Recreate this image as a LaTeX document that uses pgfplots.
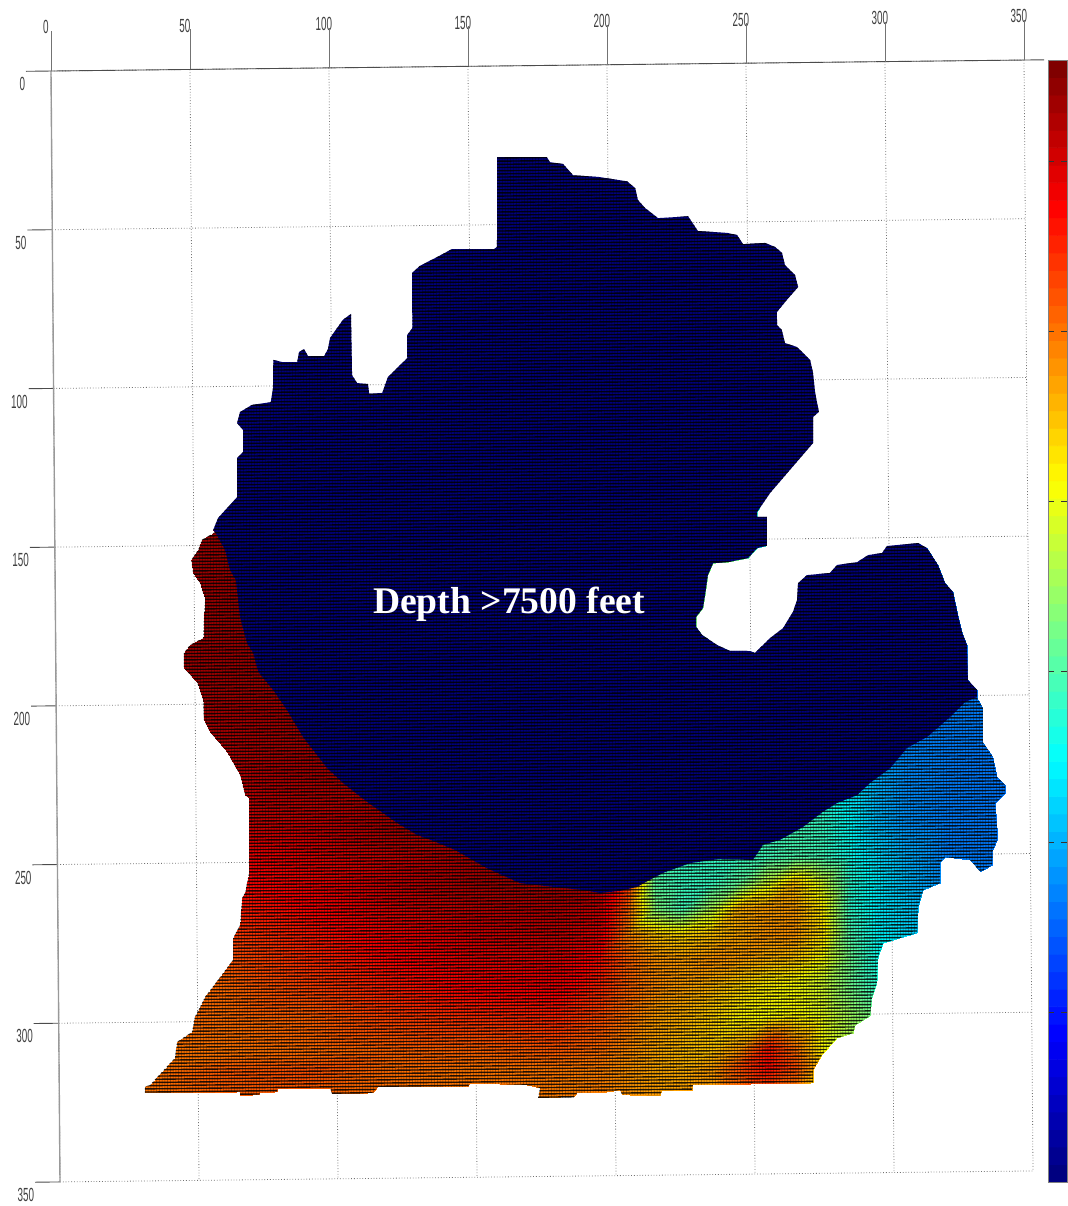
\documentclass[border=0pt]{standalone}
\usepackage{graphicx}
\usepackage{fontspec}
\setmainfont{Liberation Sans}
\newfontfamily\serifb{Liberation Serif}
\usepackage{pgfplots}
\pgfplotsset{compat=1.18}
\newcommand{\tl}[1]{\scalebox{.52}[1]{\fontsize{9.5}{10}\selectfont\pgfmathprintnumber[assume math mode=true]{#1}}}
\begin{document}
\begin{tikzpicture}
\path[use as bounding box] (0pt,0pt) rectangle (534pt,-603pt);
\begin{axis}[
  at={(25.5pt,-35.5pt)}, anchor=origin,
  x={(1.39pt,0.0157pt)}, y={(0.01286pt,-1.587pt)},
  xmin=0,xmax=350,ymin=0,ymax=350,
  xtick={0,50,...,350}, ytick={0,50,...,350},
  axis x line*=top, axis y line*=left,
  tick align=outside,
  x axis line style={draw=black!70,line width=.45pt},
  y axis line style={draw=black!40,line width=.7pt},
  x tick style={draw=none},
  y tick style={draw=black!70,line width=.45pt,/pgfplots/major tick length=12.5pt},
  grid=major,
  grid style={densely dotted,draw=black!55,line width=.4pt},
  xticklabel={\tl{\tick}}, yticklabel={\tl{\tick}},
  xticklabel style={inner sep=0pt,text=black!75,xshift=-2.5pt,yshift=14pt},
  yticklabel style={inner sep=0pt,text=black!75,xshift=-8.5pt,yshift=-6.5pt},
  colormap/jet, point meta min=0, point meta max=1,
]
\coordinate (topright) at (axis cs:350,0);
\coordinate (xt0) at (axis cs:0,0);
\coordinate (xt1) at (axis cs:50,0);
\coordinate (xt2) at (axis cs:100,0);
\coordinate (xt3) at (axis cs:150,0);
\coordinate (xt4) at (axis cs:200,0);
\coordinate (xt5) at (axis cs:250,0);
\coordinate (xt6) at (axis cs:300,0);
\coordinate (xt7) at (axis cs:350,0);
\clip plot coordinates {
(160.2,28.7)(159.9,57)(158.8,57.7)(143.7,57.5)(138.3,60)(132.1,62.7)(129.3,64.9)(129.2,82.3)(127.3,84.5)(127.3,91.7)(120.3,97.6)(118.2,102.6)(113.5,102.8)(113.1,99.7)(109.2,99.4)(107.4,96.9)(107.2,77.6)(104.3,79.4)(99.6,85.1)(98.8,88.6)(97.4,90.8)(91.6,90.7)(90.2,88.5)(88.4,89.4)(87.7,92.6)(82.3,92.5)(79.1,91.8)(79,100.3)(78.1,105.1)(71.3,105.9)(67,108.1)(65.9,111.6)(68.1,113.8)(68,120.7)(65.8,122.6)(65.7,134.9)(58.8,141.4)(57,145.2)
(57.7,145.8)(52.9,148.2)(51.5,151.4)(49,154.5)(49.6,158.6)(52.1,161.8)(53.9,167.1)(53.4,172.5)(53.1,179.1)(48.3,181.3)(46.1,183.8)(46.1,188.6)(50.7,193)(52.9,198.6)(53.1,204.9)(55.3,208.8)(61.3,215.1)(66,222.5)(67.7,228.8)(69.1,229.7)(68.9,253.3)(67.4,259.6)(66.3,261.2)(65.5,269.7)(63,273.7)(62.9,280.6)(58.2,286)(52.7,292.2)(49,298.5)(47.9,303.2)(42.5,306.3)(41.7,311.3)(37,315.7)(32.6,319.8)(30.8,320.3)(30.8,322.2)
(65,322.3)(65,323.3)(71.8,323.3)(72.2,322.6)(78.3,322.4)(78.7,321.2)(97.4,321.4)(98.1,323.2)(106,323.3)(112.8,323)(114.6,321.2)(147,321.5)(147.8,320.3)(168.2,321.1)(172.9,322.1)(172.2,325.2)(184.8,325.4)(186.2,323.8)(197.4,323.6)(201.7,323)(202.4,324.6)(216.1,324.8)(216.8,323.2)(227.6,323.3)(227.9,321.7)
(271.2,321.5)(271.2,317.4)(274.4,312.7)(279.9,307.4)(285.7,305.9)(286.4,303.4)(291.8,300.6)(292.6,294.6)(294.4,290.2)(294.9,282)(296.8,277.7)(301.8,276.4)(309,274.6)(309.5,266.4)(311.3,261.1)(317.4,259)(317.5,252.4)(319.3,250.8)(328.3,251.8)(331.9,255.6)(336.2,253.5)(336.5,248.8)(338.1,245.6)(338.1,242.5)(337.5,234)(341.1,230.8)(341.1,228.3)(338.2,225.8)(336.8,219.5)(333.2,214.7)(333.3,204)(331.3,200.8)
(331.3,198.3)(328,195.1)(327.8,184.1)(326.1,180.2)(324.6,174.6)(322.9,167.3)(320.1,164.5)(317.6,158.8)(313.7,153.4)(310.5,151.8)(299.3,152.6)(297.5,154.8)(292.5,155.4)(288.5,157.6)(281.3,158.4)(278.7,160.9)(270.4,161.5)(267.2,164)(266.8,169.3)(265.3,173)(261.7,178.1)(257,181.2)(251.5,185.8)(249.7,185.2)(242.5,185.1)(237.9,183.2)(232.6,180)(230.4,177.4)(230.4,174.3)(232.9,171.5)(233.7,167.4)(234.8,161.1)(236.7,157.4)(242.1,157.1)(249.3,155.9)(252.6,152.8)(256.1,152.1)(256.2,143)(252.7,143)(252.7,141.4)(257.4,135.5)(273,119.9)(273.1,111.7)(275.2,110.1)(273.9,104.1)(273.2,97.8)(272.2,93.7)(267.5,89.6)(263.2,88.3)(262.1,84.2)(260.4,82.6)(260.4,78.5)(264,74.7)(268.1,70.7)(267,66.9)(263.4,63.7)(262.4,59.9)(259.9,58)(256.3,56.7)(248.4,57)(246.3,54.1)(242.7,53.4)(232.2,52.7)(228.7,48)(225.1,48.2)(217.9,48.5)(213.3,45.3)(210.7,42.7)(209.8,39)(206.9,36.8)(196.5,35.3)(187.5,34.7)(183.9,31.1)(179.2,30.5)(178.1,28.9)
} -- cycle;
\addplot[surf, shader=interp, mesh/cols=20, point meta=\thisrow{c}] table[x=x,y=y,row sep=\\] {
x y c\\
30 140 .97\\60 140 .97\\90 140 .97\\120 140 .97\\150 140 .97\\180 140 .97\\195 140 .97\\205 140 .97\\215 140 .5\\225 140 .5\\235 140 .5\\245 140 .5\\255 140 .4\\265 140 .4\\275 140 .4\\285 140 .3\\295 140 .3\\305 140 .3\\320 140 .3\\345 140 .3\\
30 190 .97\\60 190 .97\\90 190 .97\\120 190 .97\\150 190 .97\\180 190 .97\\195 190 .97\\205 190 .97\\215 190 .5\\225 190 .5\\235 190 .5\\245 190 .5\\255 190 .4\\265 190 .4\\275 190 .4\\285 190 .3\\295 190 .26\\305 190 .25\\320 190 .25\\345 190 .25\\
30 220 .95\\60 220 .95\\90 220 .96\\120 220 .97\\150 220 .97\\180 220 .97\\195 220 .97\\205 220 .97\\215 220 .5\\225 220 .5\\235 220 .5\\245 220 .5\\255 220 .43\\265 220 .4\\275 220 .38\\285 220 .33\\295 220 .29\\305 220 .26\\320 220 .25\\345 220 .24\\
30 240 .92\\60 240 .92\\90 240 .93\\120 240 .96\\150 240 .98\\180 240 .98\\195 240 .98\\205 240 .97\\215 240 .46\\225 240 .44\\235 240 .44\\245 240 .44\\255 240 .44\\265 240 .44\\275 240 .43\\285 240 .38\\295 240 .31\\305 240 .27\\320 240 .25\\345 240 .24\\
30 250 .88\\60 250 .88\\90 250 .9\\120 250 .93\\150 250 .96\\180 250 .98\\195 250 .98\\205 250 .95\\215 250 .45\\225 250 .43\\235 250 .43\\245 250 .43\\255 250 .44\\265 250 .45\\275 250 .44\\285 250 .39\\295 250 .34\\305 250 .3\\320 250 .25\\345 250 .24\\
30 258 .85\\60 258 .86\\90 258 .89\\120 258 .93\\150 258 .96\\180 258 .97\\195 258 .96\\205 258 .82\\215 258 .46\\225 258 .43\\235 258 .43\\245 258 .47\\255 258 .58\\265 258 .68\\275 258 .58\\285 258 .42\\295 258 .36\\305 258 .31\\320 258 .26\\345 258 .24\\
30 266 .83\\60 266 .84\\90 266 .87\\120 266 .91\\150 266 .94\\180 266 .95\\195 266 .92\\205 266 .78\\215 266 .5\\225 266 .44\\235 266 .55\\245 266 .7\\255 266 .72\\265 266 .72\\275 266 .64\\285 266 .42\\295 266 .36\\305 266 .33\\320 266 .28\\345 266 .24\\
30 274 .8\\60 274 .81\\90 274 .85\\120 274 .89\\150 274 .92\\180 274 .93\\195 274 .9\\205 274 .75\\215 274 .68\\225 274 .66\\235 274 .68\\245 274 .71\\255 274 .73\\265 274 .73\\275 274 .65\\285 274 .45\\295 274 .37\\305 274 .34\\320 274 .28\\345 274 .24\\
30 282 .79\\60 282 .79\\90 282 .83\\120 282 .87\\150 282 .9\\180 282 .91\\195 282 .86\\205 282 .78\\215 282 .73\\225 282 .72\\235 282 .73\\245 282 .72\\255 282 .7\\265 282 .68\\275 282 .62\\285 282 .48\\295 282 .39\\305 282 .36\\320 282 .31\\345 282 .28\\
30 290 .77\\60 290 .77\\90 290 .81\\120 290 .85\\150 290 .88\\180 290 .89\\195 290 .84\\205 290 .78\\215 290 .74\\225 290 .72\\235 290 .7\\245 290 .67\\255 290 .64\\265 290 .62\\275 290 .58\\285 290 .48\\295 290 .41\\305 290 .38\\320 290 .33\\345 290 .28\\
30 300 .77\\60 300 .77\\90 300 .78\\120 300 .81\\150 300 .83\\180 300 .84\\195 300 .8\\205 300 .76\\215 300 .72\\225 300 .7\\235 300 .67\\245 300 .63\\255 300 .62\\265 300 .63\\275 300 .6\\285 300 .53\\295 300 .48\\305 300 .43\\320 300 .38\\345 300 .33\\
30 310 .76\\60 310 .76\\90 310 .77\\120 310 .78\\150 310 .78\\180 310 .79\\195 310 .77\\205 310 .74\\215 310 .71\\225 310 .69\\235 310 .68\\245 310 .72\\255 310 .85\\265 310 .76\\275 310 .62\\285 310 .55\\295 310 .5\\305 310 .45\\320 310 .4\\345 310 .35\\
30 316 .76\\60 316 .79\\90 316 .8\\120 316 .77\\150 316 .76\\180 316 .76\\195 316 .75\\205 316 .73\\215 316 .71\\225 316 .7\\235 316 .72\\245 316 .8\\255 316 .87\\265 316 .8\\275 316 .66\\285 316 .58\\295 316 .5\\305 316 .45\\320 316 .4\\345 316 .35\\
30 325 .76\\60 325 .78\\90 325 .78\\120 325 .76\\150 325 .76\\180 325 .75\\195 325 .75\\205 325 .73\\215 325 .72\\225 325 .72\\235 325 .72\\245 325 .76\\255 325 .78\\265 325 .74\\275 325 .62\\285 325 .58\\295 325 .5\\305 325 .45\\320 325 .4\\345 325 .35\\
};
\addplot[draw=none, fill={rgb,255:red,0;green,0;blue,125}] coordinates {
(57.7,145.8)(61.2,151.5)(62.9,157.8)(65,161)(66.4,172.7)(68.8,180.9)(71,184)(72.8,190)(78.1,195.8)(83,202.1)(88.7,210.7)(97.3,220.6)(102.9,225.3)(111.6,231.4)(122.3,238.1)(129.5,242)(134.1,243.5)(143,246.8)(154.5,252.7)(166.3,257.5)(178.2,258.8)(189,259.9)(195.1,260.9)(202.3,260.3)(208.4,259.1)(213.1,256.9)(217.8,254.8)(227.6,251.8)(238.3,250.6)(250.2,251)(253.8,246.3)(260,244.8)(268.3,240.8)(275.5,236.1)(280.6,233.4)(287.8,231)(292.5,227.2)(299.8,222.6)(305.9,216.3)(313.2,212.9)(321.5,206.7)(327,202)(331.3,200.5)(345,200)(345,20)(40,20)(40,145.8)
} -- cycle;
\draw[black,opacity=.85,line width=.7pt] \foreach \i in {27,...,326}{(axis cs:25,\i)--(axis cs:345,\i)};
\draw[black,opacity=.45,line width=.25pt] \foreach \i in {30,...,345}{(axis cs:\i,25)--(axis cs:\i,327)};
\node[text=white,font=\serifb\bfseries\fontsize{18.8}{20}\selectfont] at (axis cs:163.2,169.6) {Depth >7500 feet};
\end{axis}
\draw[black!70,line width=.45pt] (topright) -- ++(10pt,0.1pt);
\foreach \n in {0,...,7} \draw[black!55,line width=.4pt] (xt\n) -- ++(0pt,20pt);
\begin{axis}[
  at={(524pt,-591pt)}, anchor=south west, scale only axis,
  width=9.5pt, height=561pt,
  xmin=0,xmax=1,ymin=0,ymax=64,
  xtick=\empty, ytick={9.7,19.4,29.1,38.8,48.5,58.2}, yticklabels={},
  tick align=inside, ytick pos=both,
  major tick length=3pt,
  tick style={draw=black!80,line width=.4pt},
  axis line style={draw=black!50,line width=.3pt},
  colormap/jet,
  axis on top,
]
\addplot[matrix plot*, mesh/cols=2, point meta=y] coordinates {
(0,.5)(1,.5)(0,1.5)(1,1.5)(0,2.5)(1,2.5)(0,3.5)(1,3.5)(0,4.5)(1,4.5)(0,5.5)(1,5.5)(0,6.5)(1,6.5)(0,7.5)(1,7.5)
(0,8.5)(1,8.5)(0,9.5)(1,9.5)(0,10.5)(1,10.5)(0,11.5)(1,11.5)(0,12.5)(1,12.5)(0,13.5)(1,13.5)(0,14.5)(1,14.5)(0,15.5)(1,15.5)
(0,16.5)(1,16.5)(0,17.5)(1,17.5)(0,18.5)(1,18.5)(0,19.5)(1,19.5)(0,20.5)(1,20.5)(0,21.5)(1,21.5)(0,22.5)(1,22.5)(0,23.5)(1,23.5)
(0,24.5)(1,24.5)(0,25.5)(1,25.5)(0,26.5)(1,26.5)(0,27.5)(1,27.5)(0,28.5)(1,28.5)(0,29.5)(1,29.5)(0,30.5)(1,30.5)(0,31.5)(1,31.5)
(0,32.5)(1,32.5)(0,33.5)(1,33.5)(0,34.5)(1,34.5)(0,35.5)(1,35.5)(0,36.5)(1,36.5)(0,37.5)(1,37.5)(0,38.5)(1,38.5)(0,39.5)(1,39.5)
(0,40.5)(1,40.5)(0,41.5)(1,41.5)(0,42.5)(1,42.5)(0,43.5)(1,43.5)(0,44.5)(1,44.5)(0,45.5)(1,45.5)(0,46.5)(1,46.5)(0,47.5)(1,47.5)
(0,48.5)(1,48.5)(0,49.5)(1,49.5)(0,50.5)(1,50.5)(0,51.5)(1,51.5)(0,52.5)(1,52.5)(0,53.5)(1,53.5)(0,54.5)(1,54.5)(0,55.5)(1,55.5)
(0,56.5)(1,56.5)(0,57.5)(1,57.5)(0,58.5)(1,58.5)(0,59.5)(1,59.5)(0,60.5)(1,60.5)(0,61.5)(1,61.5)(0,62.5)(1,62.5)(0,63.5)(1,63.5)
};
\end{axis}
\end{tikzpicture}
\end{document}
